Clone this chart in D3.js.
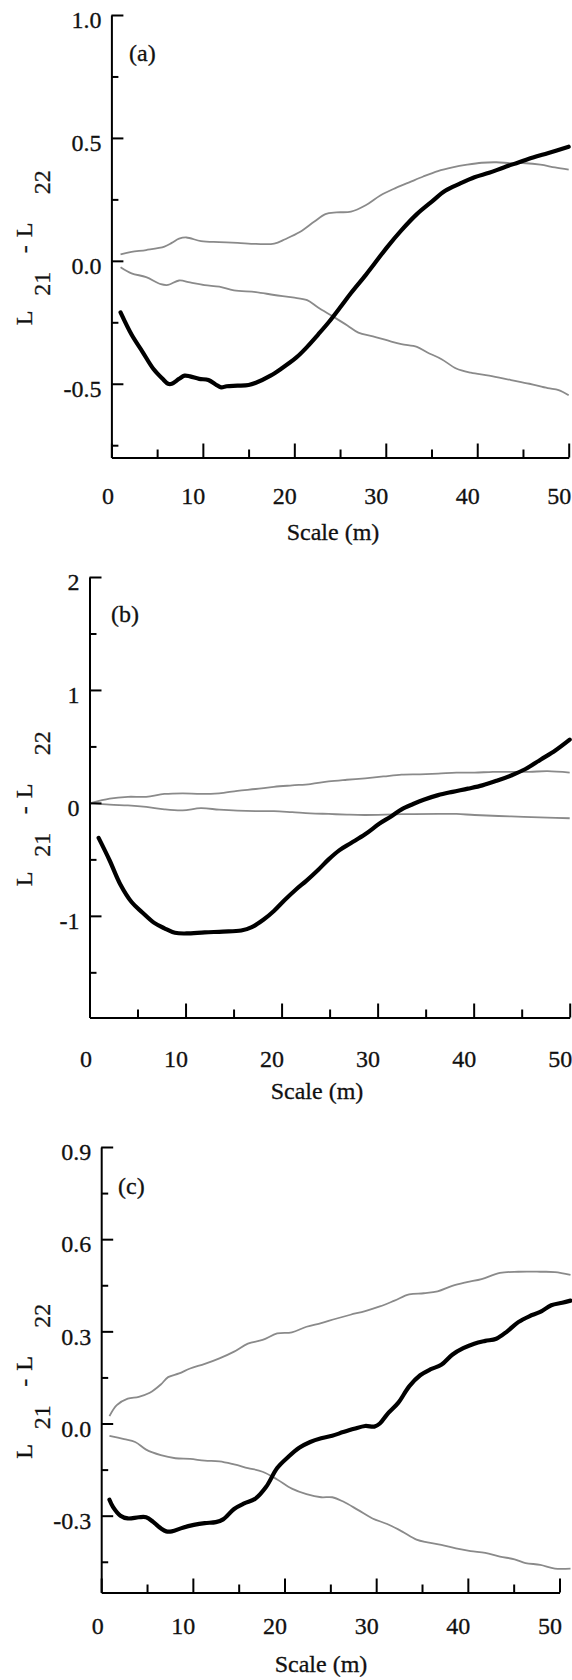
<!DOCTYPE html>
<html>
<head>
<meta charset="utf-8">
<script src="https://cdn.jsdelivr.net/npm/d3@7"></script>
<style>
  html, body { margin: 0; padding: 0; background: #fff; }
  svg { display: block; }
  text { font-family: "Liberation Serif", "Times New Roman", "DejaVu Serif", serif; fill: #111; stroke: #111; stroke-width: 0.3px; }
</style>
</head>
<body>
<svg id="chart" width="572" height="1680"></svg>
<script>
// ---------------- Data ----------------
const xTicks = [0, 10, 20, 30, 40, 50];
const xMinorTicks = [5, 15, 25, 35, 45];

const yTicksA = [1.0, 0.5, 0.0, -0.5];
const yMinorA = [0.75, 0.25, -0.25, -0.75];
const yTicksB = [2, 1, 0, -1];
const yMinorB = [1.5, 0.5, -0.5, -1.5];
const yTicksC = [0.9, 0.6, 0.3, 0.0, -0.3];
const yMinorC = [0.75, 0.45, 0.15, -0.15, -0.45];

// Panel (a)
const aObsX = [1.0,2.2,3.4,4.6,5.6,6.2,6.6,7.4,8.0,8.6,9.6,10.6,11.4,12.0,12.6,13.8,15.0,15.8,17.4,18.6,20.2,21.4,22.6,23.8,25.0,26.2,27.8,29.0,30.2,31.7,33.4,35.0,36.5,38.1,39.7,41.3,42.9,44.5,46.1,47.7,50.0];
const aObsY = [-0.21,-0.30,-0.37,-0.44,-0.48,-0.50,-0.50,-0.48,-0.467,-0.47,-0.48,-0.485,-0.503,-0.515,-0.51,-0.508,-0.505,-0.496,-0.467,-0.438,-0.394,-0.35,-0.30,-0.248,-0.19,-0.131,-0.058,0.0,0.058,0.124,0.19,0.24,0.285,0.314,0.34,0.358,0.38,0.40,0.42,0.438,0.464];
const aUpX = [1.0,2.2,3.8,5.8,6.6,7.4,8.2,9.8,11.8,13.8,15.8,17.8,19.0,20.6,22.2,23.4,24.6,26.2,27.8,29.4,31.0,32.5,34.1,35.7,37.3,38.9,40.5,42.1,43.7,45.3,46.9,48.5,50.0];
const aUpY = [0.026,0.036,0.044,0.058,0.073,0.09,0.095,0.08,0.076,0.073,0.069,0.07,0.088,0.117,0.16,0.19,0.197,0.2,0.226,0.266,0.295,0.318,0.343,0.365,0.38,0.391,0.399,0.401,0.397,0.397,0.391,0.38,0.371];
const aLoX = [1.0,2.2,3.8,5.4,6.2,7.4,8.6,10.2,11.8,13.4,15.8,17.8,19.8,21.4,22.6,24.2,25.8,27.0,28.6,30.2,31.7,33.4,34.5,36.1,37.7,39.3,41.3,43.7,45.7,47.7,48.9,50.0];
const aLoY = [-0.026,-0.051,-0.066,-0.095,-0.098,-0.08,-0.088,-0.099,-0.105,-0.12,-0.127,-0.139,-0.149,-0.16,-0.19,-0.226,-0.263,-0.292,-0.307,-0.324,-0.339,-0.35,-0.372,-0.40,-0.438,-0.455,-0.467,-0.485,-0.50,-0.518,-0.526,-0.547];

// Panel (b)
const bObsX = [0.95,2.1,3.2,4.4,5.5,6.7,7.8,8.9,10.1,12.0,13.9,15.8,16.9,18.1,19.2,20.3,21.5,22.6,23.8,24.9,26.0,27.2,28.7,30.2,31.4,32.5,33.7,34.8,36.3,37.8,39.4,40.9,42.4,43.9,45.4,47.0,48.5,50.0];
const bObsY = [-0.31,-0.51,-0.72,-0.88,-0.97,-1.06,-1.11,-1.15,-1.156,-1.146,-1.14,-1.13,-1.10,-1.035,-0.957,-0.862,-0.767,-0.688,-0.594,-0.50,-0.42,-0.357,-0.278,-0.183,-0.12,-0.057,-0.01,0.028,0.069,0.098,0.126,0.155,0.196,0.243,0.30,0.385,0.464,0.56];
const bUpX = [0.2,2.1,4.0,5.9,7.8,9.7,11.6,13.5,15.4,17.3,19.2,21.1,23.0,24.9,26.8,28.7,30.6,32.5,34.4,36.3,38.2,40.1,42.0,43.9,45.8,47.7,50.0];
const bUpY = [0,0.038,0.054,0.054,0.079,0.085,0.079,0.085,0.107,0.123,0.142,0.155,0.167,0.19,0.205,0.218,0.234,0.25,0.253,0.259,0.268,0.268,0.275,0.275,0.275,0.281,0.268];
const bLoX = [0.2,2.1,4.0,5.9,7.8,9.7,11.6,13.5,15.4,17.3,19.2,21.1,23.0,24.9,26.8,28.7,32.5,36.3,38.2,40.1,43.9,47.7,50.0];
const bLoY = [0,-0.016,-0.022,-0.035,-0.057,-0.066,-0.047,-0.06,-0.069,-0.073,-0.073,-0.082,-0.092,-0.098,-0.104,-0.107,-0.10,-0.098,-0.098,-0.107,-0.12,-0.13,-0.136];

// Panel (c)
const cObsX = [0.9,1.3,2.1,2.9,4.1,4.9,5.7,6.5,7.1,7.7,8.9,10.1,11.3,12.5,13.3,14.5,15.6,16.8,18.0,19.2,20.4,21.6,22.8,24.0,25.2,26.4,27.6,28.8,29.8,30.4,31.2,32.4,33.6,34.8,35.9,37.1,38.3,39.5,40.7,41.9,43.1,44.3,45.5,46.7,47.9,49.1,50.3,51.2];
const cObsY = [-0.248,-0.272,-0.30,-0.309,-0.305,-0.305,-0.321,-0.341,-0.351,-0.351,-0.339,-0.33,-0.324,-0.321,-0.312,-0.278,-0.26,-0.245,-0.206,-0.145,-0.109,-0.079,-0.06,-0.048,-0.04,-0.028,-0.017,-0.008,-0.01,0.0,0.03,0.067,0.121,0.157,0.176,0.191,0.224,0.245,0.26,0.269,0.276,0.30,0.33,0.349,0.363,0.385,0.393,0.40];
const cUpX = [0.9,1.7,2.9,4.1,5.3,6.5,7.3,8.5,9.7,11.3,12.9,14.5,16.0,17.6,19.2,20.8,22.4,24.0,25.6,27.2,28.8,30.4,32.0,33.6,35.2,36.7,38.3,39.9,41.5,43.5,45.5,47.9,49.5,51.2];
const cUpY = [0.024,0.06,0.081,0.087,0.10,0.127,0.151,0.163,0.179,0.194,0.212,0.234,0.26,0.272,0.293,0.297,0.315,0.327,0.341,0.354,0.366,0.381,0.40,0.42,0.424,0.43,0.448,0.46,0.47,0.49,0.494,0.494,0.493,0.484];
const cLoX = [0.9,2.5,3.7,4.9,6.5,8.1,9.7,11.3,12.9,14.5,16.0,17.6,19.2,20.8,22.4,24.0,25.2,26.4,28.0,29.6,31.2,32.8,34.4,35.6,37.1,38.7,40.3,41.9,43.5,45.1,46.3,47.9,49.5,51.2];
const cLoY = [-0.04,-0.051,-0.06,-0.085,-0.103,-0.113,-0.115,-0.121,-0.123,-0.133,-0.145,-0.157,-0.182,-0.212,-0.23,-0.24,-0.24,-0.254,-0.281,-0.309,-0.327,-0.351,-0.378,-0.387,-0.395,-0.406,-0.415,-0.421,-0.433,-0.442,-0.454,-0.46,-0.472,-0.472];

// ---------------- Layout ----------------
const zip = (xs, ys) => xs.map((x, i) => [x, ys[i]]);

const panels = [
  { tag: "(a)", x0: 111.4, x1: 568.7, yTop: 15, yBot: 457.5, yDom: [-0.8, 1.0],
    yMajor: yTicksA, yMinor: yMinorA, fmt: d => d.toFixed(1),
    xLabDy: 46, titleY: 540, titleX: 333, tagX: 129, tagY: 61,
    obs: zip(aObsX, aObsY), up: zip(aUpX, aUpY), lo: zip(aLoX, aLoY) },
  { tag: "(b)", x0: 89.5, x1: 569.7, yTop: 577, yBot: 1017.5, yDom: [-1.9, 2],
    yMajor: yTicksB, yMinor: yMinorB, fmt: d => String(d),
    xLabDy: 49, titleY: 1099, titleX: 317, tagX: 111, tagY: 622,
    obs: zip(bObsX, bObsY), up: zip(bUpX, bUpY), lo: zip(bLoX, bLoY) },
  { tag: "(c)", x0: 101.2, x1: 559.5, yTop: 1147, yBot: 1592.5, yDom: [-0.55, 0.9],
    yMajor: yTicksC, yMinor: yMinorC, fmt: d => d.toFixed(1),
    xLabDy: 41, titleY: 1672, titleX: 321, tagX: 118, tagY: 1194,
    obs: zip(cObsX, cObsY), up: zip(cUpX, cUpY), lo: zip(cLoX, cLoY) }
];

const svg = d3.select("#chart");
svg.append("rect").attr("width", 572).attr("height", 1680).attr("fill", "#fff");

const FS = 24;

panels.forEach(p => {
  const x = d3.scaleLinear().domain([0, 50]).range([p.x0, p.x1]);
  const y = d3.scaleLinear().domain(p.yDom).range([p.yBot, p.yTop]);
  const g = svg.append("g");

  // curves
  const line = d3.line().x(d => x(d[0])).y(d => y(d[1])).curve(d3.curveCatmullRom.alpha(0.5));
  [p.up, p.lo].forEach(s => {
    g.append("path").attr("d", line(s)).attr("fill", "none")
      .attr("stroke", "#8a8a8a").attr("stroke-width", 1.8).attr("stroke-linejoin", "round");
  });
  g.append("path").attr("d", line(p.obs)).attr("fill", "none")
    .attr("stroke", "#000").attr("stroke-width", 4.2)
    .attr("stroke-linejoin", "round").attr("stroke-linecap", "round");

  // x axis (ticks inward)
  const gx = g.append("g").attr("transform", `translate(0,${p.yBot})`);
  gx.call(d3.axisBottom(x).tickValues(xMinorTicks).tickSize(-8).tickSizeOuter(0).tickFormat(""));
  gx.select(".domain").remove();
  const gx2 = g.append("g").attr("transform", `translate(0,${p.yBot})`);
  gx2.call(d3.axisBottom(x).tickValues(xTicks).tickSize(-14).tickSizeOuter(0).tickFormat(d => String(d)));
  gx2.selectAll("text").attr("text-anchor", "end").attr("x", 2).attr("y", p.xLabDy).attr("dy", null)
    .attr("font-size", FS);

  // y axis (ticks inward)
  const gy = g.append("g").attr("transform", `translate(${p.x0},0)`);
  gy.call(d3.axisLeft(y).tickValues(p.yMinor).tickSize(-7).tickSizeOuter(0).tickFormat(""));
  gy.select(".domain").remove();
  const gy2 = g.append("g").attr("transform", `translate(${p.x0},0)`);
  gy2.call(d3.axisLeft(y).tickValues(p.yMajor).tickSize(-12).tickSizeOuter(0).tickFormat(p.fmt));
  gy2.selectAll("text").attr("text-anchor", "end").attr("x", -10).attr("y", 5).attr("dy", "0.32em")
    .attr("font-size", FS);

  g.selectAll("g").attr("font-family", null).attr("font-size", null);
  g.selectAll(".domain").attr("stroke", "#000").attr("stroke-width", 2);
  g.selectAll(".tick line").attr("stroke", "#000").attr("stroke-width", 2);
  g.selectAll(".tick text").attr("font-size", FS);

  // x title
  g.append("text").attr("x", p.titleX).attr("y", p.titleY).attr("text-anchor", "middle")
    .attr("font-size", FS).text("Scale (m)");

  // panel tag
  g.append("text").attr("x", p.tagX).attr("y", p.tagY).attr("font-size", FS).text(p.tag);

  // y title: L21 - L22 with subscripts
  const center = (p.yTop + p.yBot) / 2;
  const yt = g.append("text").attr("transform", `translate(31.5,${center + 89}) rotate(-90)`)
    .attr("font-size", FS);
  const parts = [
    { t: "L", x: 0, y: 0 },
    { t: "21", x: 29.5, y: 18 },
    { t: "-", x: 72, y: 0 },
    { t: "L", x: 88, y: 0 },
    { t: "22", x: 131, y: 18 }
  ];
  parts.forEach(s => yt.append("tspan").attr("x", s.x).attr("y", s.y).text(s.t));
});
</script>
</body>
</html>
